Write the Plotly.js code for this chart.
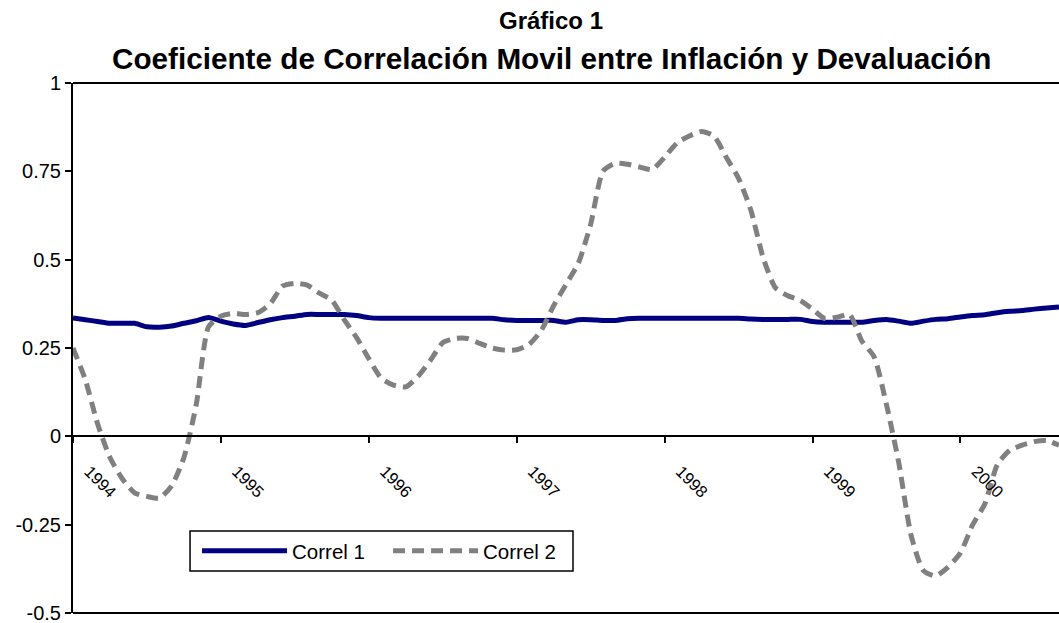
<!DOCTYPE html>
<html>
<head>
<meta charset="utf-8">
<script src="https://cdn.plot.ly/plotly-3.0.1.min.js"></script>
<style>
  html, body { margin: 0; padding: 0; background: #ffffff; }
  #chart { width: 1059px; height: 623px; }
</style>
</head>
<body>
<div id="chart"></div>
<script>
// Monthly observations, January 1994 onward
const yearLabels = ['1994', '1995', '1996', '1997', '1998', '1999', '2000'];

const correl1 = [
  0.335, 0.330, 0.325, 0.320, 0.320, 0.320, 0.310, 0.309, 0.312, 0.320,
  0.327, 0.336, 0.326, 0.318, 0.314, 0.322, 0.330, 0.336, 0.340, 0.345,
  0.345, 0.345, 0.345, 0.342, 0.336, 0.334, 0.334, 0.334, 0.334, 0.334,
  0.334, 0.334, 0.334, 0.334, 0.334, 0.330, 0.328, 0.328, 0.328, 0.328,
  0.323, 0.330, 0.330, 0.328, 0.328, 0.333, 0.334, 0.334, 0.334, 0.334,
  0.334, 0.334, 0.334, 0.334, 0.334, 0.332, 0.331, 0.331, 0.331, 0.331,
  0.325, 0.323, 0.323, 0.323, 0.323, 0.328, 0.331, 0.326, 0.320, 0.326,
  0.331, 0.333, 0.338, 0.342, 0.344, 0.350, 0.354, 0.356, 0.360, 0.363,
  0.366
];

const correl2 = [
  0.250, 0.160, 0.035, -0.060, -0.120, -0.160, -0.170, -0.175, -0.140, -0.060,
  0.090, 0.310, 0.340, 0.348, 0.345, 0.350, 0.375, 0.425, 0.433, 0.428,
  0.405, 0.385, 0.330, 0.280, 0.220, 0.165, 0.145, 0.140, 0.170, 0.215,
  0.265, 0.277, 0.277, 0.263, 0.250, 0.244, 0.245, 0.260, 0.300, 0.370,
  0.430, 0.490, 0.600, 0.750, 0.773, 0.770, 0.762, 0.755, 0.790, 0.830,
  0.850, 0.863, 0.850, 0.790, 0.730, 0.640, 0.505, 0.420, 0.398, 0.385,
  0.360, 0.333, 0.337, 0.345, 0.270, 0.225, 0.090, -0.075, -0.280, -0.380,
  -0.395, -0.370, -0.330, -0.250, -0.190, -0.080, -0.040, -0.025, -0.015, -0.012,
  -0.025
];

const yTickVals = [-0.5, -0.25, 0, 0.25, 0.5, 0.75, 1];
const yTickText = ['-0.5', '-0.25', '0', '0.25', '0.5', '0.75', '1'];

const monthIndex = correl1.map((_, i) => i);
const yearTickVals = yearLabels.map((_, k) => k * 12);

const FONT = '"Liberation Sans", Arial, Helvetica, sans-serif';

const traces = [
  {
    x: monthIndex, y: correl1, name: 'Correl 1', type: 'scatter', mode: 'lines',
    line: { color: '#000080', width: 5, shape: 'spline', smoothing: 0.6 }
  },
  {
    x: monthIndex, y: correl2, name: 'Correl 2', type: 'scatter', mode: 'lines',
    line: { color: '#808080', width: 5, dash: '12px,7px', shape: 'spline', smoothing: 0.6 }
  }
];

const layout = {
  width: 1059, height: 623,
  margin: { l: 73, r: 0, t: 83, b: 10 },
  paper_bgcolor: '#ffffff', plot_bgcolor: '#ffffff',
  font: { family: FONT, size: 20, color: '#000000' },
  showlegend: true,
  legend: {
    orientation: 'h', x: 0.1258, y: 0.1547, xanchor: 'left', yanchor: 'top',
    borderwidth: 0, bgcolor: 'rgba(0,0,0,0)',
    font: { family: FONT, size: 20.5, color: '#000000' },
    itemwidth: 85, entrywidth: 91, entrywidthmode: 'pixels', tracegroupgap: 0
  },
  xaxis: {
    range: [0, 80], anchor: 'free', position: 1 / 3,
    showgrid: false, zeroline: false,
    showline: true, linecolor: '#000000', linewidth: 2,
    ticks: 'outside', ticklen: 6, tickwidth: 2, tickcolor: '#000000',
    tickvals: yearTickVals, ticktext: yearLabels, tickangle: 45,
    tickfont: { family: FONT, size: 16.5, color: '#000000' },
    ticklabelstandoff: 12, ticklabelshift: 16
  },
  yaxis: {
    range: [-0.5, 1],
    showgrid: false, zeroline: false,
    showline: true, linecolor: '#000000', linewidth: 2,
    ticks: 'outside', ticklen: 6, tickwidth: 2, tickcolor: '#000000',
    tickvals: yTickVals, ticktext: yTickText, ticklabeloverflow: 'allow',
    tickfont: { family: FONT, size: 20, color: '#000000' }
  },
  shapes: [
    { type: 'line', xref: 'paper', yref: 'paper', x0: 0, x1: 1, y0: 1, y1: 1,
      line: { color: '#000000', width: 2 } },
    { type: 'line', xref: 'paper', yref: 'paper', x0: 0, x1: 1, y0: 0, y1: 0,
      line: { color: '#000000', width: 2 } },
    { type: 'rect', xref: 'paper', yref: 'paper', x0: 0.1187, x1: 0.5071, y0: 0.0792, y1: 0.1547,
      line: { color: '#000000', width: 1.5 }, fillcolor: 'rgba(0,0,0,0)', layer: 'above' }
  ],
  annotations: [
    { text: '<b>Gráfico 1</b>', xref: 'paper', yref: 'paper', x: 0.485, y: 1.117,
      xanchor: 'center', yanchor: 'middle', showarrow: false,
      font: { family: FONT, size: 24, color: '#000000' } },
    { text: '<b>Coeficiente de Correlación Movil entre Inflación y Devaluación</b>',
      xref: 'paper', yref: 'paper', x: 0.485, y: 1.047,
      xanchor: 'center', yanchor: 'middle', showarrow: false,
      font: { family: FONT, size: 29.7, color: '#000000' } }
  ]
};

Plotly.newPlot('chart', traces, layout, { displayModeBar: false, responsive: false });
</script>
</body>
</html>
